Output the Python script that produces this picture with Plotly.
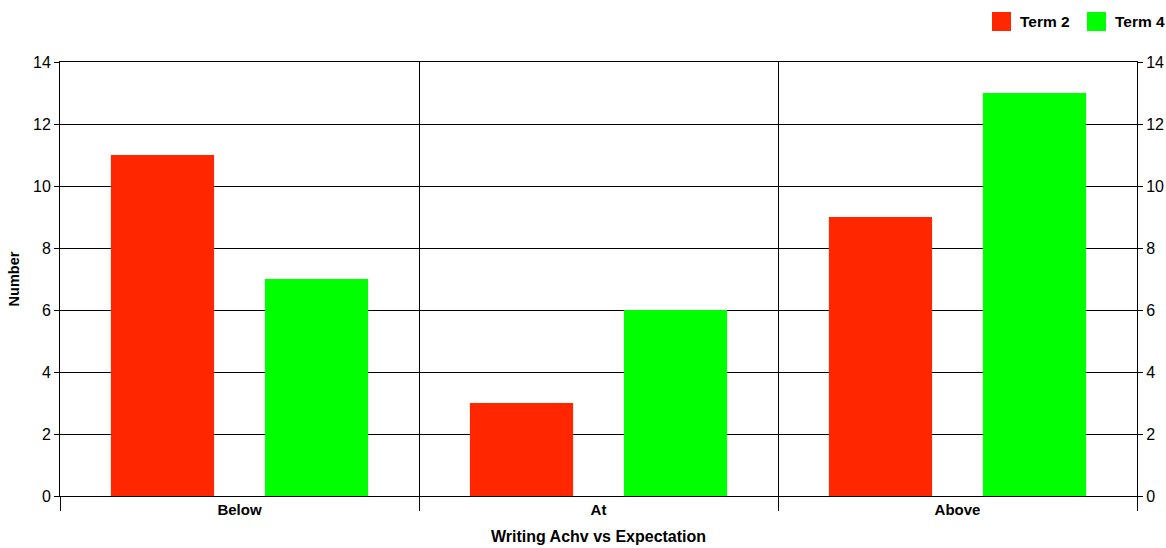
import plotly.graph_objects as go

categories = ["Below", "At", "Above"]
term2 = [11, 3, 9]
term4 = [7, 6, 13]
series_names = ["Term 2", "Term 4"]
series_colors = ["#FF2600", "#00FF00"]
y_ticks = [0, 2, 4, 6, 8, 10, 12, 14]

FAM = "Liberation Sans, Arial, sans-serif"
TICKFONT = dict(family=FAM, size=15, color="#000")
YTICKFONT = dict(family=FAM, size=16, color="#000")

fig = go.Figure()
for name, vals, col in zip(series_names, [term2, term4], series_colors):
    fig.add_trace(go.Bar(name=name, x=categories, y=vals, marker=dict(color=col, line=dict(width=0)), showlegend=False))
fig.add_trace(go.Bar(x=categories, y=[None] * len(categories), yaxis="y2", showlegend=False, hoverinfo="skip"))

fig.update_layout(
    width=1166, height=548,
    margin=dict(l=60, r=29, t=62, b=52, autoexpand=False),
    paper_bgcolor="white", plot_bgcolor="white",
    font=dict(family=FAM, size=14, color="#000"),
    barmode="group", bargap=0.142, bargroupgap=0.33,
    showlegend=False,
    xaxis=dict(
        type="category", tickson="boundaries", ticks="outside", ticklen=14, tickcolor="#000", tickwidth=1,
        showgrid=True, gridcolor="#000", gridwidth=1, automargin=False,
        showline=True, linecolor="#000", linewidth=1, mirror=True,
        tickfont=TICKFONT, tickprefix="<b>", ticksuffix="</b>",
        title=dict(text="<b>Writing Achv vs Expectation</b>", font=dict(family=FAM, size=16), standoff=13),
    ),
    yaxis=dict(
        range=[0, 14], tickvals=y_ticks, ticks="outside", ticklen=5, tickcolor="#000",
        showgrid=True, gridcolor="#000", gridwidth=1, zeroline=False, automargin=False,
        showline=True, linecolor="#000", linewidth=1,
        tickfont=YTICKFONT, tickprefix="<b>", ticksuffix="</b>",
        title=dict(text="<b>Number</b>", font=dict(family=FAM, size=14.5), standoff=9),
    ),
    yaxis2=dict(
        range=[0, 14], tickvals=y_ticks, ticks="outside", ticklen=5, tickcolor="#000",
        overlaying="y", side="right", showgrid=False, zeroline=False, automargin=False,
        showline=True, linecolor="#000", linewidth=1,
        tickfont=YTICKFONT, tickprefix="<b>", ticksuffix="</b>",
    ),
)

# legend drawn in paper/pixel terms at top right
legend_x = [992, 1087]
for name, col, lx in zip(series_names, series_colors, legend_x):
    fig.add_shape(type="rect", xref="paper", yref="paper",
                  x0=(lx - 60) / 1077, x1=(lx + 19 - 60) / 1077,
                  y0=(548 - 52 - 31) / 434, y1=(548 - 52 - 12) / 434,
                  fillcolor=col, line=dict(width=0))
    fig.add_annotation(xref="paper", yref="paper", x=(lx + 26 - 60) / 1077, y=(548 - 52 - 21.5) / 434,
                       xanchor="left", yanchor="middle", showarrow=False,
                       text="<b>" + name + "</b>", font=dict(family=FAM, size=15.5, color="#000"))

fig.write_html("out.html", config={"displayModeBar": False},
               post_script="document.body.style.margin='0';document.body.style.overflow='hidden';")
